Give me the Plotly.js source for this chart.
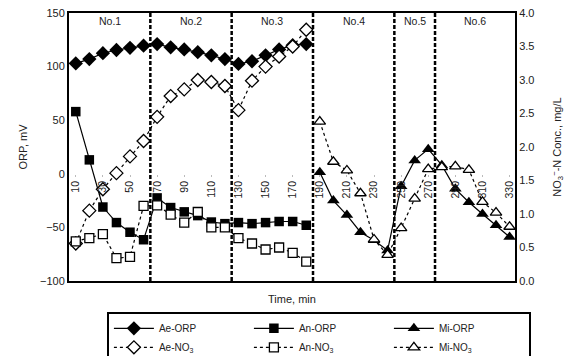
<!DOCTYPE html>
<html>
<head>
<meta charset="utf-8">
<script src="https://cdn.plot.ly/plotly-3.0.1.min.js"></script>
<style>html,body{margin:0;padding:0;background:#fff;}#chart{width:576px;height:356px;}</style>
</head>
<body>
<div id="chart"></div>
<script>
// ---- data ----
const timeAeAn = [10,20,30,40,50,60,70,80,90,100,110,120,130,140,150,160,170,180];
const timeMi = [190,200,210,220,230,240,250,260,270,280,290,300,310,320,330];

const aeORP = [103,107,112.5,115.5,117.5,119.5,121,118,116,113.5,110.5,107,102.5,105,110.5,116,120,121];
const anORP = [58,13,-31,-45.5,-54.5,-61.5,-22.5,-31.5,-35.5,-39,-45,-46.5,-45.5,-46.5,-45.5,-44.5,-44.5,-48];
const miORP = [1.5,-25,-38.5,-54.5,-62,-71.5,-11.5,12.5,23,8,-14,-26.5,-37.5,-48,-59];

const aeNO3 = [0.56,1.05,1.37,1.61,1.86,2.09,2.45,2.76,2.86,3.0,2.97,2.91,2.55,2.99,3.2,3.35,3.5,3.75];
const anNO3 = [0.59,0.64,0.70,0.34,0.36,1.12,1.13,0.99,0.87,1.03,0.80,0.80,0.64,0.56,0.47,0.50,0.42,0.29];
const miNO3 = [2.38,1.78,1.65,1.31,0.62,0.39,0.79,1.23,1.67,1.70,1.71,1.66,1.18,1.02,0.81];

const tickTimes = [10,30,50,70,90,110,130,150,170,190,210,230,250,270,290,310,330];
const runBounds = [5,65,125,185,245,275,334];
const runLabels = ['No.1','No.2','No.3','No.4','No.5','No.6'];

// ---- traces ----
const solid = {color:'#000', width:1.2};
const dotted = {color:'#000', width:1.2, dash:'dot'};
const filled = (sym, size) => ({symbol:sym, size:size, color:'#000', line:{color:'#000', width:0}});
const open = (sym, size) => ({symbol:sym, size:size, color:'#fff', line:{color:'#000', width:1.3}});

const traces = [
  {name:'Ae-ORP', x:timeAeAn, y:aeORP, mode:'lines+markers', line:solid, marker:filled('diamond',11), yaxis:'y'},
  {name:'An-ORP', x:timeAeAn, y:anORP, mode:'lines+markers', line:solid, marker:filled('square',9.5), yaxis:'y'},
  {name:'Mi-ORP', x:timeMi, y:miORP, mode:'lines+markers', line:solid, marker:filled('triangle-up',11), yaxis:'y'},
  {name:'Ae-NO<sub>3</sub>', x:timeAeAn, y:aeNO3, mode:'lines+markers', line:dotted, marker:open('diamond',10), yaxis:'y2'},
  {name:'An-NO<sub>3</sub>', x:timeAeAn, y:anNO3, mode:'lines+markers', line:dotted, marker:open('square',9), yaxis:'y2'},
  {name:'Mi-NO<sub>3</sub>', x:timeMi, y:miNO3, mode:'lines+markers', line:dotted, marker:open('triangle-up',10), yaxis:'y2'},
  {x:tickTimes, y:tickTimes.map(()=>null), xaxis:'x2', yaxis:'y', mode:'markers', showlegend:false, hoverinfo:'skip'}
];

// ---- dividers & run labels ----
const shapes = runBounds.slice(1,-1).map(b => ({
  type:'line', xref:'x', yref:'paper', x0:b, x1:b, y0:0, y1:1,
  line:{color:'#000', width:2.5, dash:'4px,2px'}
}));
const annotations = runLabels.map((t,i) => ({
  text:t, xref:'x', yref:'paper', x:(runBounds[i]+runBounds[i+1])/2, y:0.97,
  xanchor:'center', yanchor:'middle', showarrow:false, font:{size:10.5, color:'#222'}
}));

const layout = {
  width:576, height:356,
  margin:{l:69, r:61, t:13, b:75, autoexpand:false},
  paper_bgcolor:'#fff', plot_bgcolor:'#fff',
  font:{family:'Liberation Sans, Arial, sans-serif', size:11, color:'#222'},
  showlegend:true,
  xaxis:{range:[5,334], showgrid:false, zeroline:false, showticklabels:false, ticks:'',
         showline:true, linecolor:'#000', linewidth:2, mirror:true,
         title:{text:'Time, min', font:{size:11}, standoff:13}},
  xaxis2:{overlaying:'x', anchor:'free', position:0.4, range:[5,334], side:'bottom',
          tickmode:'array', tickvals:tickTimes, ticktext:tickTimes.map(String), tickangle:-90,
          showgrid:false, zeroline:false, showline:false, ticks:'outside', ticklen:2, tickcolor:'#bbb',
          tickfont:{size:10.5, color:'#222'}},
  yaxis:{range:[-100,150], dtick:50, showgrid:false, zeroline:false,
         showline:true, linecolor:'#000', linewidth:2, ticks:'',
         tickfont:{size:11}, title:{text:'ORP, mV', font:{size:11}, standoff:10}},
  yaxis2:{overlaying:'y', side:'right', range:[0,4], dtick:0.5, tickformat:'.1f',
          showgrid:false, zeroline:false, showline:true, linecolor:'#000', linewidth:2, ticks:'',
          tickfont:{size:11}, title:{text:'NO<sub>3</sub><sup>−</sup>-N Conc., mg/L', font:{size:11}, standoff:20}},
  legend:{orientation:'h', x:0.085, xanchor:'left', y:-0.115, yanchor:'top',
          bgcolor:'#fff', bordercolor:'#000', borderwidth:2,
          font:{size:10, color:'#222'}, entrywidth:85, entrywidthmode:'pixels',
          tracegroupgap:0, itemwidth:40},
  shapes:shapes, annotations:annotations
};

Plotly.newPlot('chart', traces, layout, {displayModeBar:false, staticPlot:true});
</script>
</body>
</html>
